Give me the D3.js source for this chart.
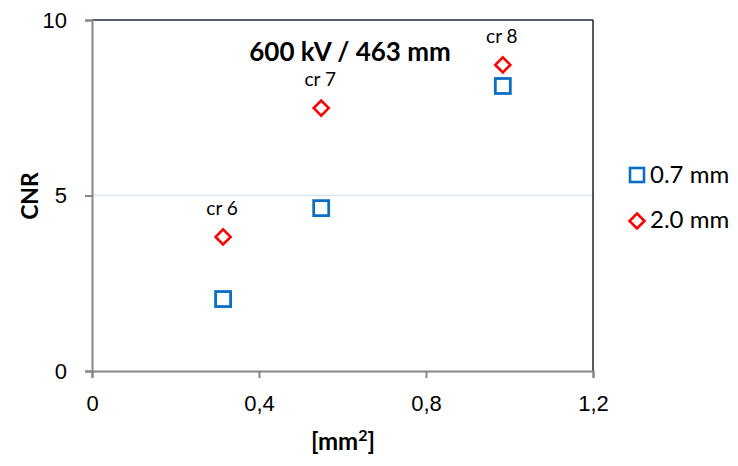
<!DOCTYPE html>
<html lang="en">
<head>
<meta charset="UTF-8">
<title>CNR</title>
<script src="https://cdn.jsdelivr.net/npm/d3@7"></script>
<style>
    body { margin: 0; background: #fff; }
    svg { font-family: Lato, "Open Sans", sans-serif; }
    .tick text { font-size: 22px; fill: #000; }
</style>
</head>
<body>
<div id="chart"></div>
<script>
// data
const areas = [0.314, 0.549, 0.984]
const cnr07 = [2.05, 4.64, 8.12]
const cnr20 = [3.82, 7.49, 8.72]
const pointLabels = ['cr 6', 'cr 7', 'cr 8']
const xTicks = [0, 0.4, 0.8, 1.2]
const yTicks = [0, 5, 10]

const width = 738, height = 466
const m = {left: 92, right: 145, top: 20, bottom: 95}

const svg = d3.select('#chart').append('svg')
    .attr('width', width).attr('height', height)

const x = d3.scaleLinear().domain([0, 1.2]).range([m.left, width - m.right])
const y = d3.scaleLinear().domain([0, 10]).range([height - m.bottom, m.top])

// gridline at 5
svg.append('line')
    .attr('x1', x(0)).attr('x2', x(1.2))
    .attr('y1', y(5)).attr('y2', y(5))
    .attr('stroke', '#d6e3f1').attr('stroke-width', 1.5)

// top and right border
svg.append('line')
    .attr('x1', x(0)).attr('x2', x(1.2)).attr('y1', y(10)).attr('y2', y(10))
    .attr('stroke', '#1f2a38').attr('stroke-width', 1.3)
svg.append('line')
    .attr('x1', x(1.2)).attr('x2', x(1.2)).attr('y1', y(10)).attr('y2', y(0))
    .attr('stroke', '#000').attr('stroke-width', 1.3)

const fmt = d => d3.format('~g')(d).replace('.', ',')

const xAxis = svg.append('g')
    .attr('transform', `translate(0,${y(0)})`)
    .call(d3.axisBottom(x).tickValues(xTicks).tickFormat(fmt).tickSize(7).tickPadding(13))
const yAxis = svg.append('g')
    .attr('transform', `translate(${x(0)},0)`)
    .call(d3.axisLeft(y).tickValues(yTicks).tickFormat(fmt).tickSize(7).tickPadding(18))

;[xAxis, yAxis].forEach(a => {
    a.select('.domain').attr('stroke', '#868686').attr('stroke-width', 2)
    a.selectAll('.tick line').attr('stroke', '#868686').attr('stroke-width', 2)
})
xAxis.selectAll('.tick text').attr('dy', '0.9em')

// series
const s = 18
svg.append('g').selectAll('rect')
    .data(areas.map((a, i) => [a, cnr07[i]]))
    .enter().append('rect')
    .attr('x', d => x(d[0]) - s / 2 + 1.5)
    .attr('y', d => y(d[1]) - s / 2 + 1.5)
    .attr('width', s - 3).attr('height', s - 3)
    .attr('fill', 'none').attr('stroke', '#0b6fc3').attr('stroke-width', 2.8)

const diamond = 'M0,-7.5L7.5,0L0,7.5L-7.5,0Z'
svg.append('g').selectAll('path')
    .data(areas.map((a, i) => [a, cnr20[i]]))
    .enter().append('path')
    .attr('transform', d => `translate(${x(d[0])},${y(d[1])})`)
    .attr('d', diamond)
    .attr('fill', 'none').attr('stroke', '#ff0000').attr('stroke-width', 2.6)

svg.append('g').selectAll('text')
    .data(areas.map((a, i) => [a, cnr20[i], pointLabels[i]]))
    .enter().append('text')
    .attr('x', d => x(d[0]) - 1)
    .attr('y', d => y(d[1]) - 22)
    .attr('text-anchor', 'middle')
    .attr('font-size', 19)
    .text(d => d[2])

// title
svg.append('text')
    .attr('x', 350).attr('y', 61)
    .attr('text-anchor', 'middle')
    .attr('font-size', 26).attr('font-weight', 'bold')
    .text('600 kV / 463 mm')

// axis labels
svg.append('text')
    .attr('x', 343).attr('y', 450)
    .attr('text-anchor', 'middle')
    .attr('font-size', 24).attr('font-weight', 'bold')
    .html('[mm<tspan dy="-9" font-size="16">2</tspan><tspan dy="9">]</tspan>')

svg.append('text')
    .attr('transform', 'translate(38,196) rotate(-90)')
    .attr('text-anchor', 'middle')
    .attr('font-size', 23).attr('font-weight', 'bold')
    .text('CNR')

// legend
const lg = svg.append('g')
lg.append('rect')
    .attr('x', 630).attr('y', 168).attr('width', 14).attr('height', 14)
    .attr('fill', 'none').attr('stroke', '#0b6fc3').attr('stroke-width', 2.6)
lg.append('text').attr('x', 650).attr('y', 183).attr('font-size', 24).text('0.7 mm')
lg.append('path')
    .attr('transform', 'translate(637,221)')
    .attr('d', diamond)
    .attr('fill', 'none').attr('stroke', '#ff0000').attr('stroke-width', 2.6)
lg.append('text').attr('x', 650).attr('y', 228).attr('font-size', 24).text('2.0 mm')
</script>
</body>
</html>
